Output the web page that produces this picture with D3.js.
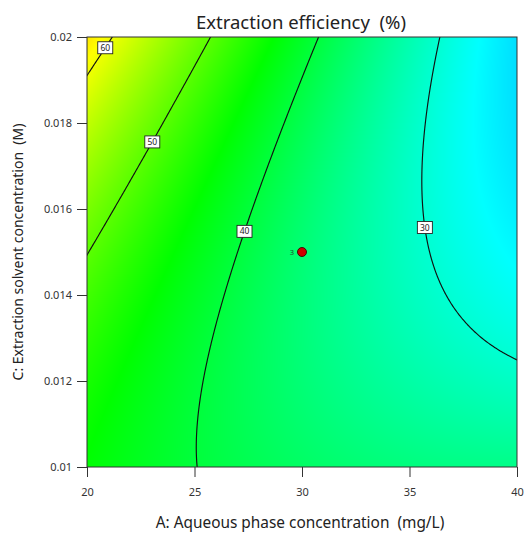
<!DOCTYPE html>
<html><head><meta charset="utf-8">
<script src="https://cdn.jsdelivr.net/npm/d3@7"></script>
<style>
body{margin:0;background:#fff}
svg text{font-family:"Noto Sans",sans-serif;white-space:pre}
</style>
</head><body>
<svg id="chart" width="528" height="535"></svg>
<script>
// Factor ranges and tick values
const aRange = [20, 40];          // A: aqueous phase concentration (mg/L)
const cRange = [0.01, 0.02];      // C: extraction solvent concentration (M)
const aTicks = [20, 25, 30, 35, 40];
const cTicks = [0.01, 0.012, 0.014, 0.016, 0.018, 0.02];

// Quadratic response model in coded units: 1, A, C, AC, A², C²
const modelCoef = [36.282, -11.801, 2.051, -7.394, 2.048, 3.133];

// Contour levels and where each label sits (C value along the line)
const levels = [30, 40, 50, 60];
const labelC = [0.01557, 0.01548, 0.01756, 0.01975];

// Design point (centre point, replicates)
const designA = [30];
const designC = [0.015];
const designReps = [3];

// Colour ramp for the response
const colorVals = [6, 27, 44, 61, 78];
const colorHex = ["#0000ff", "#00ffff", "#00ff00", "#ffff00", "#ff0000"];

const plot = {left: 87, top: 37, right: 517, bottom: 467};

const code = (v, r) => (v - (r[0] + r[1]) / 2) / ((r[1] - r[0]) / 2);
function predict(a, c) {
  const u = code(a, aRange), v = code(c, cRange);
  const t = [1, u, v, u * v, u * u, v * v];
  return d3.sum(t, (d, i) => d * modelCoef[i]);
}

const x = d3.scaleLinear().domain(aRange).range([plot.left, plot.right]);
const y = d3.scaleLinear().domain(cRange).range([plot.bottom, plot.top]);
const color = d3.scaleLinear().domain(colorVals).range(colorHex).clamp(true);

const svg = d3.select("#chart");
svg.append("defs").append("clipPath").attr("id", "plotClip")
  .append("rect").attr("x", plot.left).attr("y", plot.top)
  .attr("width", plot.right - plot.left).attr("height", plot.bottom - plot.top);

// Colour-filled response surface, one pixel per cell
const pw = plot.right - plot.left, ph = plot.bottom - plot.top;
const cnv = document.createElement("canvas");
cnv.width = pw; cnv.height = ph;
const ctx = cnv.getContext("2d");
const img = ctx.createImageData(pw, ph);
for (let j = 0; j < ph; j++) {
  const c = y.invert(plot.top + j + 0.5);
  for (let i = 0; i < pw; i++) {
    const a = x.invert(plot.left + i + 0.5);
    const col = d3.rgb(color(predict(a, c)));
    const k = (j * pw + i) * 4;
    img.data[k] = col.r; img.data[k + 1] = col.g; img.data[k + 2] = col.b; img.data[k + 3] = 255;
  }
}
ctx.putImageData(img, 0, 0);
svg.append("image").attr("x", plot.left).attr("y", plot.top)
  .attr("width", pw).attr("height", ph).attr("href", cnv.toDataURL());

// Contour lines from a grid that runs slightly past the plot edges
const nx = 240, ny = 240;
const aLo = aRange[0] - 0.5, aHi = aRange[1] + 0.5;
const cLo = cRange[0] - 0.00025, cHi = cRange[1] + 0.00025;
const sa = (aHi - aLo) / (nx - 1), sc = (cHi - cLo) / (ny - 1);
const grid = new Float64Array(nx * ny);
for (let j = 0; j < ny; j++) for (let i = 0; i < nx; i++)
  grid[j * nx + i] = predict(aLo + i * sa, cHi - j * sc);
const contours = d3.contours().size([nx, ny]).thresholds(levels)(Array.from(grid));
const proj = d3.geoTransform({
  point(px, py) { this.stream.point(x(aLo + (px - 0.5) * sa), y(cHi - (py - 0.5) * sc)); }
});
const path = d3.geoPath(proj);
svg.append("g").attr("clip-path", "url(#plotClip)")
  .selectAll("path").data(contours).join("path")
  .attr("d", path).attr("fill", "none")
  .attr("stroke", "#111").attr("stroke-width", 1.15);

// Plot frame
svg.append("rect").attr("x", plot.left).attr("y", plot.top)
  .attr("width", pw).attr("height", ph)
  .attr("fill", "none").attr("stroke", "#333").attr("stroke-width", 1);

// Contour labels
function solveA(level, c) {
  let lo = aRange[0], hi = aRange[1];
  const flo = predict(lo, c) - level;
  for (let k = 0; k < 60; k++) {
    const mid = (lo + hi) / 2, fm = predict(mid, c) - level;
    if ((fm > 0) === (flo > 0)) lo = mid; else hi = mid;
  }
  return (lo + hi) / 2;
}
const lab = svg.append("g").selectAll("g").data(levels).join("g")
  .attr("transform", (d, i) => `translate(${x(solveA(d, labelC[i]))},${y(labelC[i])})`);
lab.append("rect").attr("x", -7.5).attr("y", -6).attr("width", 15).attr("height", 12)
  .attr("fill", "#fff").attr("stroke", "#222").attr("stroke-width", 0.9);
lab.append("text").attr("text-anchor", "middle").attr("dy", "0.36em")
  .attr("font-size", 8.5).attr("fill", "#222").text(d => d);

// Design point
const dp = svg.append("g").selectAll("g").data(designA).join("g")
  .attr("transform", (d, i) => `translate(${x(d)},${y(designC[i])})`);
dp.append("circle").attr("r", 4.5).attr("fill", "#cc0000").attr("stroke", "#3a0000").attr("stroke-width", 0.9);
dp.append("text").attr("x", -8).attr("dy", "0.35em").attr("text-anchor", "end")
  .attr("font-size", 7.5).attr("fill", "#1e4e2e").text((d, i) => designReps[i]);

// Axes
const xAxis = svg.append("g").attr("transform", `translate(0,${plot.bottom})`)
  .call(d3.axisBottom(x).tickValues(aTicks).tickSize(10).tickPadding(11).tickFormat(d3.format("d")));
const yAxis = svg.append("g").attr("transform", `translate(${plot.left},0)`)
  .call(d3.axisLeft(y).tickValues(cTicks).tickSize(10).tickPadding(5).tickFormat(d => String(d)));
[xAxis, yAxis].forEach(g => {
  g.select(".domain").remove();
  g.selectAll(".tick line").attr("stroke", "#333");
  g.selectAll(".tick text").attr("fill", "#333").attr("font-size", 11)
    .attr("font-family", '"Noto Sans",sans-serif');
});

// Titles
svg.append("text").attr("x", 301).attr("y", 29)
  .attr("text-anchor", "middle").attr("font-size", 18.5).attr("fill", "#222")
  .text("Extraction efficiency  (%)");
svg.append("text").attr("x", 300).attr("y", 528)
  .attr("text-anchor", "middle").attr("font-size", 15.4).attr("fill", "#222")
  .text("A: Aqueous phase concentration  (mg/L)");
svg.append("text").attr("transform", `translate(23,${(plot.top + plot.bottom) / 2}) rotate(-90)`)
  .attr("text-anchor", "middle").attr("font-size", 14).attr("fill", "#222")
  .text("C: Extraction solvent concentration  (M)");
</script>
</body></html>
